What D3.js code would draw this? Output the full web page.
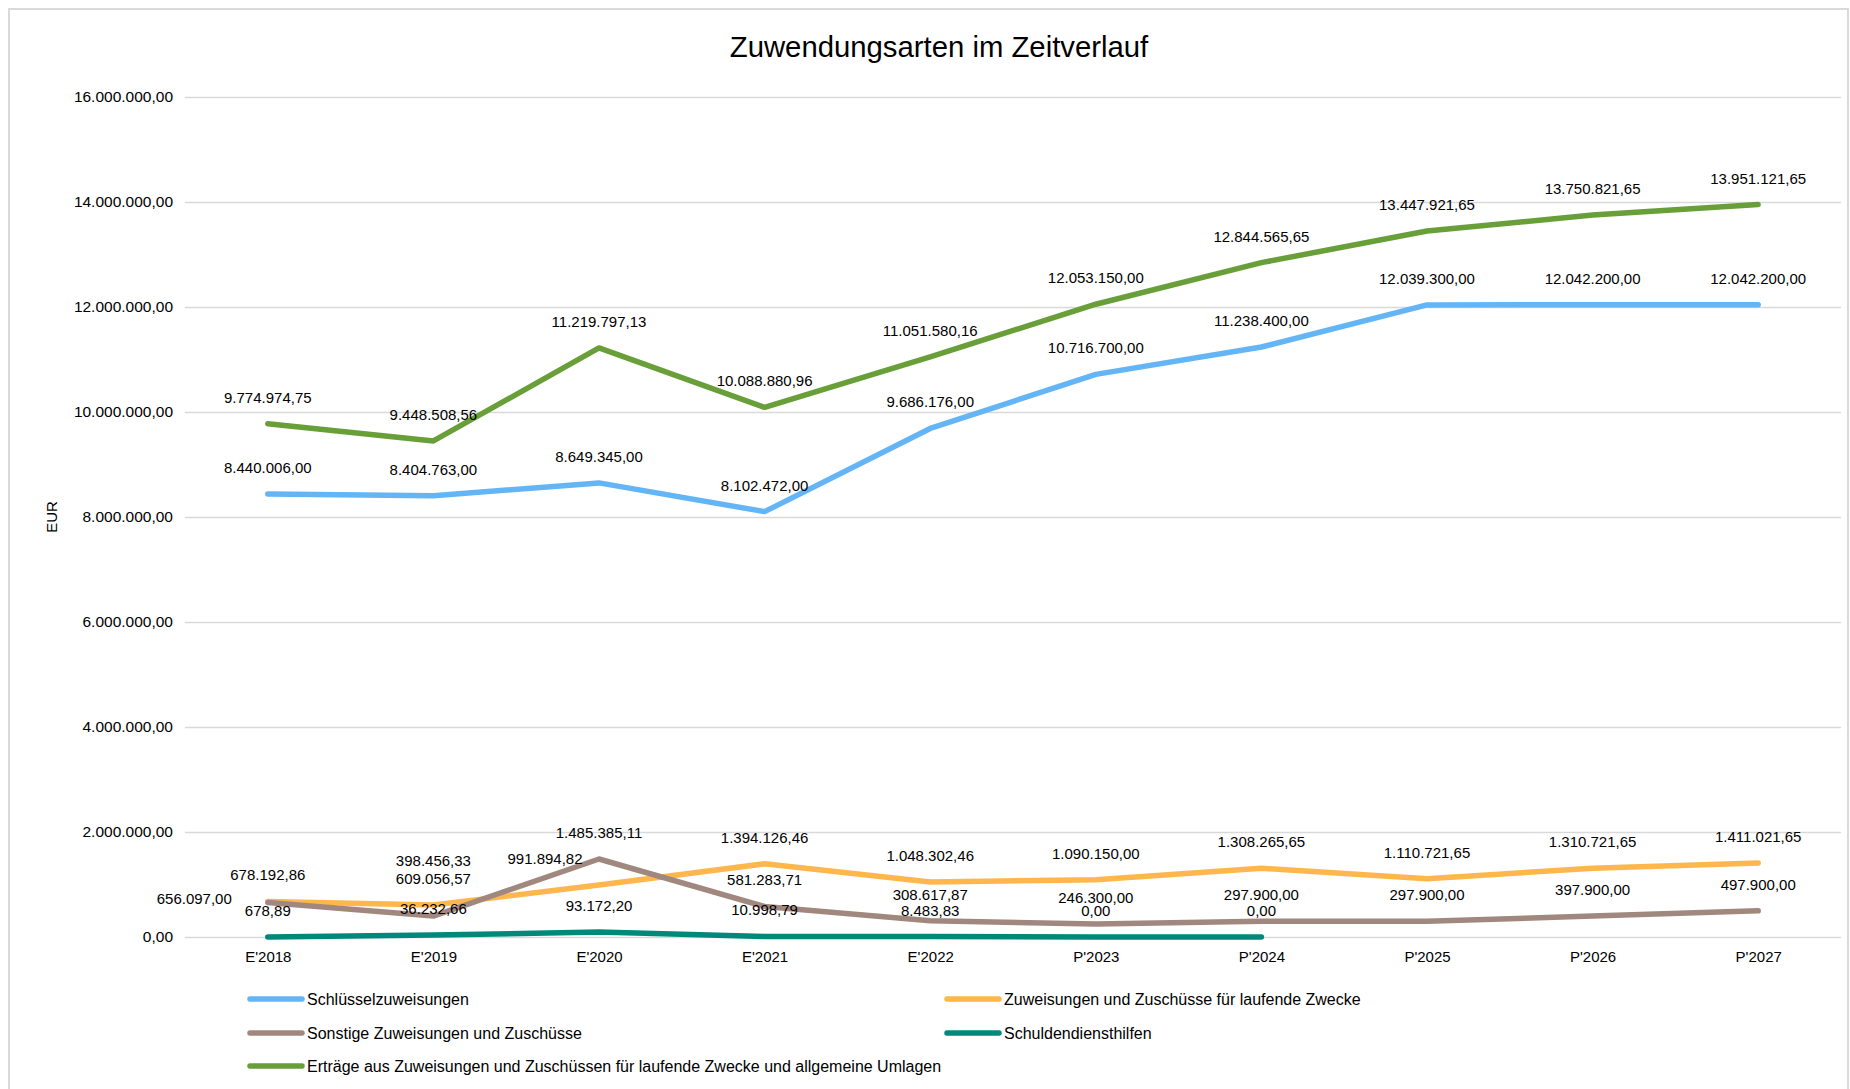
<!DOCTYPE html>
<html><head><meta charset="utf-8">
<script src="https://cdn.jsdelivr.net/npm/d3@7"></script>
<style>
body{margin:0;background:#fff;}
text{font-family:"Liberation Sans",Arial,sans-serif;fill:#000;}
</style>
</head><body>
<svg id="c" width="1850" height="1089"></svg>
<script>
// ---- data ----
const categories = ["E'2018","E'2019","E'2020","E'2021","E'2022","P'2023","P'2024","P'2025","P'2026","P'2027"];
const schluesselzuweisungen = [8440006.00, 8404763.00, 8649345.00, 8102472.00, 9686176.00, 10716700.00, 11238400.00, 12039300.00, 12042200.00, 12042200.00];
const laufendeZwecke = [678192.86, 609056.57, 991894.82, 1394126.46, 1048302.46, 1090150.00, 1308265.65, 1110721.65, 1310721.65, 1411021.65];
const sonstige = [656097.00, 398456.33, 1485385.11, 581283.71, 308617.87, 246300.00, 297900.00, 297900.00, 397900.00, 497900.00];
const schuldendiensthilfen = [678.89, 36232.66, 93172.20, 10998.79, 8483.83, 0.00, 0.00, null, null, null];
const ertraege = [9774974.75, 9448508.56, 11219797.13, 10088880.96, 11051580.16, 12053150.00, 12844565.65, 13447921.65, 13750821.65, 13951121.65];
const yTicks = [0, 2000000, 4000000, 6000000, 8000000, 10000000, 12000000, 14000000, 16000000];
const seriesNames = ["Schlüsselzuweisungen", "Zuweisungen und Zuschüsse für laufende Zwecke", "Sonstige Zuweisungen und Zuschüsse", "Schuldendiensthilfen", "Erträge aus Zuweisungen und Zuschüssen für laufende Zwecke und allgemeine Umlagen"];
const title = "Zuwendungsarten im Zeitverlauf";
const yTitle = "EUR";

// ---- styling ----
const colors = ["#64B5F6", "#FFB74D", "#A1887F", "#00897B", "#689F38"];
const seriesValues = [schluesselzuweisungen, laufendeZwecke, sonstige, schuldendiensthilfen, ertraege];

const svg = d3.select("#c");
const plot = {left: 185, right: 1841, top: 97, bottom: 937};

svg.append("rect").attr("x", 9).attr("y", 9).attr("width", 1839).attr("height", 1100)
  .attr("fill", "#fff").attr("stroke", "#D9D9D9").attr("stroke-width", 2);

const locale = d3.formatLocale({decimal: ",", thousands: ".", grouping: [3], currency: ["", "€"]});
const fmt = locale.format(",.2f");

const x = d3.scalePoint().domain(categories).range([plot.left, plot.right]).padding(0.5);
const y = d3.scaleLinear().domain([0, 16000000]).range([plot.bottom, plot.top]);

// title
svg.append("text").attr("x", 939).attr("y", 57).attr("text-anchor", "middle")
  .style("font-size", "29.3px").text(title);

// grid + y axis
const yAxis = d3.axisLeft(y).tickValues(yTicks).tickFormat(fmt).tickSize(-(plot.right - plot.left)).tickPadding(12);
const gy = svg.append("g").attr("transform", `translate(${plot.left},0)`).call(yAxis);
gy.select(".domain").remove();
gy.selectAll(".tick line").attr("stroke", "#D9D9D9").attr("stroke-width", 1.5);
gy.selectAll(".tick text").style("font-size", "15.5px").attr("fill", "#000");

// x axis
const xAxis = d3.axisBottom(x).tickSize(0).tickPadding(14);
const gx = svg.append("g").attr("transform", `translate(0,${plot.bottom})`).call(xAxis);
gx.select(".domain").remove();
gx.selectAll(".tick text").style("font-size", "15px").attr("fill", "#000");

// y title
svg.append("text").attr("transform", `translate(57,${(plot.top + plot.bottom) / 2}) rotate(-90)`)
  .attr("text-anchor", "middle").style("font-size", "15px").text(yTitle);

// lines
const line = d3.line().defined(d => d.v !== null).x(d => x(d.c)).y(d => y(d.v));
seriesValues.forEach((vals, i) => {
  const data = vals.map((v, j) => ({c: categories[j], v}));
  svg.append("path").datum(data).attr("d", line).attr("fill", "none")
    .attr("stroke", colors[i]).attr("stroke-width", 5.5)
    .attr("stroke-linecap", "round").attr("stroke-linejoin", "round");
});

// data labels (manual adjustments for a few overlapping labels)
const labelAdjust = {
  "2-0": {dx: -36, dy: 22, anchor: "end"},
  "2-1": {dy: -29},
  "1-2": {dx: -54}
};
seriesValues.forEach((vals, i) => {
  vals.forEach((v, j) => {
    if (v === null) return;
    const a = labelAdjust[`${i}-${j}`] || {};
    svg.append("text")
      .attr("x", x(categories[j]) + (a.dx || 0))
      .attr("y", y(v) - 21 + (a.dy || 0))
      .attr("text-anchor", a.anchor || "middle")
      .style("font-size", "15px").text(fmt(v));
  });
});

// legend
const legendPos = [[250, 999], [947, 999], [250, 1033], [947, 1033], [250, 1066]];
seriesNames.forEach((n, i) => {
  const [lx, ly] = legendPos[i];
  svg.append("line").attr("x1", lx).attr("x2", lx + 52).attr("y1", ly).attr("y2", ly)
    .attr("stroke", colors[i]).attr("stroke-width", 5.5).attr("stroke-linecap", "round");
  svg.append("text").attr("x", lx + 57).attr("y", ly + 5.5).style("font-size", "16px").text(n);
});
</script>
</body></html>
